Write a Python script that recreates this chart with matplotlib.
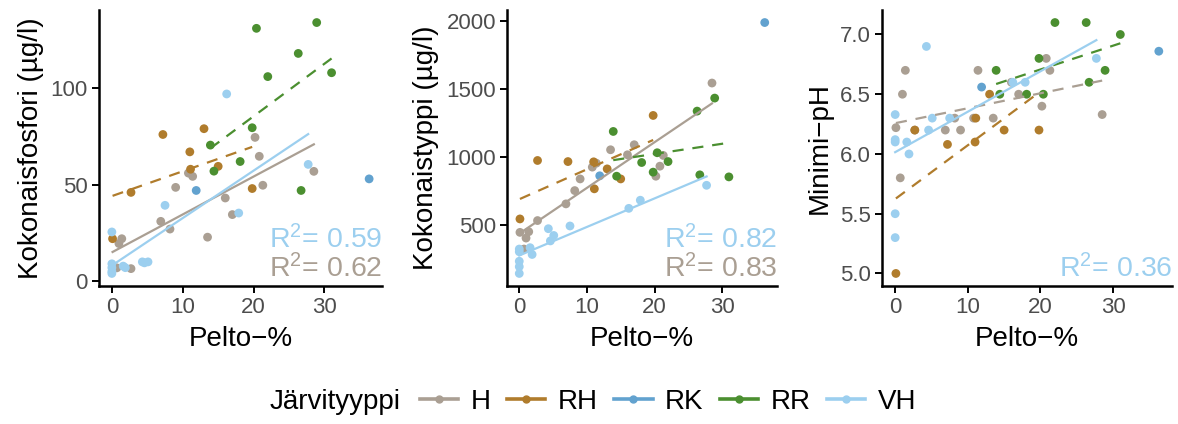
import numpy as np
import matplotlib
matplotlib.use("Agg")
import matplotlib.pyplot as plt
from matplotlib.lines import Line2D

plt.rcParams['font.family'] = ['Liberation Sans', 'DejaVu Sans']
plt.rcParams['mathtext.fontset'] = 'custom'
plt.rcParams['mathtext.rm'] = 'Liberation Sans'
plt.rcParams['mathtext.default'] = 'regular'

# Järvityypit ja värit
tyypit = ["H", "RH", "RK", "RR", "VH"]
varit = {"H": "#aa9f93", "RH": "#b07c2c", "RK": "#62a2cf", "RR": "#4b8f30", "VH": "#9ccfef"}

# Pelto-% ja mittaukset tyypeittäin (luettu kuvasta)
h_pelto = [0.1, 0.7, 1.0, 1.4, 2.7, 6.9, 8.2, 9.0, 10.8, 11.4, 13.5, 16.0, 17.0, 20.2, 20.8, 21.3, 28.5]
h_tp = [8, 6.9, 19.5, 22, 6.5, 31, 27, 48.6, 56, 54.3, 22.8, 43.1, 34.5, 74.5, 64.7, 49.7, 56.9]
h_tn = [443, 320, 401, 448, 530, 653, 751, 837, 924, 953, 1052, 1015, 1089, 857, 931, 1010, 1544]
h_ph = [6.22, 5.8, 6.5, 6.7, 6.2, 6.2, 6.3, 6.2, 6.3, 6.7, 6.3, 6.6, 6.5, 6.4, 6.8, 6.7, 6.33]

rh_pelto = [0.1, 2.7, 7.2, 11.0, 11.1, 13.0, 15.0, 19.8]
rh_tp = [22, 46, 76, 67, 58, 79, 59.5, 48]
rh_tn = [542, 973, 965, 963, 764, 911, 837, 1305]
rh_ph = [5.0, 6.2, 6.08, 6.1, 6.3, 6.5, 6.2, 6.2]

rk_pelto = [11.9, 36.3]
rk_tp = [47, 53]
rk_tn = [860, 1990]
rk_ph = [6.56, 6.86]

rr_pelto = [13.9, 14.4, 18.1, 19.8, 20.4, 22.0, 26.3, 26.7, 28.9, 31.0]
rr_tp = [70.5, 57, 62, 79.5, 131, 106, 118, 47, 134, 108]
rr_tn = [1187, 857, 958, 887, 1030, 965, 1337, 867, 1433, 852]
rr_ph = [6.7, 6.5, 6.5, 6.8, 6.5, 7.1, 7.1, 6.6, 6.7, 7.0]

vh_pelto = [0, 0, 0, 0, 0, 1.6, 1.9, 4.3, 4.6, 5.1, 7.5, 16.2, 17.9, 27.7]
vh_tp = [25.5, 9, 7, 5, 4, 7.8, 7, 10, 9.5, 10, 39.3, 97, 35.3, 60.5]
vh_tn = [320, 300, 230, 190, 140, 330, 280, 470, 380, 420, 490, 620, 680, 790]
vh_ph = [6.33, 6.12, 6.1, 5.5, 5.3, 6.1, 6.0, 6.9, 6.2, 6.3, 6.3, 6.6, 6.6, 6.8]

pelto = {"H": h_pelto, "RH": rh_pelto, "RK": rk_pelto, "RR": rr_pelto, "VH": vh_pelto}
muuttujat = [
    {"H": h_tp, "RH": rh_tp, "RK": rk_tp, "RR": rr_tp, "VH": vh_tp},
    {"H": h_tn, "RH": rh_tn, "RK": rk_tn, "RR": rr_tn, "VH": vh_tn},
    {"H": h_ph, "RH": rh_ph, "RK": rk_ph, "RR": rr_ph, "VH": vh_ph},
]
y_otsikot = ["Kokonaisfosfori (µg/l)", "Kokonaistyppi (µg/l)", "Minimi\u2212pH"]
y_tikit = [[0, 50, 100], [500, 1000, 1500, 2000], [5.0, 5.5, 6.0, 6.5, 7.0]]

# regressiosuorat: tyyppi -> viivatyyppi (solid = merkitsevä)
suorat = [
    {"H": "solid", "RH": "dashed", "RR": "dashed", "VH": "solid"},
    {"H": "solid", "RH": "dashed", "RR": "dashed", "VH": "solid"},
    {"H": "dashed", "RH": "dashed", "RR": "dashed", "VH": "solid"},
]
r2_tekstit = [
    [("VH", "0.59"), ("H", "0.62")],
    [("VH", "0.82"), ("H", "0.83")],
    [("VH", "0.36")],
]

fig = plt.figure(figsize=(11.78, 4.24), dpi=100)
paikat = [(99, 382), (507, 777), (882, 1172)]
harmaa = "#4d4d4d"

for i, (vasen, oikea) in enumerate(paikat):
    ax = fig.add_axes([vasen / 1178, (424 - 286) / 424, (oikea - vasen) / 1178, 276 / 424])
    data = muuttujat[i]
    for t in tyypit:
        ax.scatter(pelto[t], data[t], s=40, color=varit[t], edgecolors="none", zorder=2)
    for t, tyyli in suorat[i].items():
        x = np.array(pelto[t], dtype=float)
        y = np.array(data[t], dtype=float)
        k, b = np.polyfit(x, y, 1)
        xx = np.array([x.min(), x.max()])
        ls = (0, (5, 4)) if tyyli == "dashed" else "-"
        ax.plot(xx, k * xx + b, color=varit[t], lw=1.6, linestyle=ls, zorder=3)

    kaikki_x = np.concatenate([pelto[t] for t in tyypit])
    kaikki_y = np.concatenate([data[t] for t in tyypit])
    dx = (kaikki_x.max() - kaikki_x.min()) * 0.05
    dy = (kaikki_y.max() - kaikki_y.min()) * 0.05
    ax.set_xlim(kaikki_x.min() - dx, kaikki_x.max() + dx)
    ax.set_ylim(kaikki_y.min() - dy, kaikki_y.max() + dy)
    ax.set_xticks([0, 10, 20, 30])
    ax.set_yticks(y_tikit[i])
    if i == 2:
        ax.set_yticklabels([f"{v:.1f}" for v in y_tikit[i]])

    for s in ["top", "right"]:
        ax.spines[s].set_visible(False)
    for s in ["left", "bottom"]:
        ax.spines[s].set_linewidth(1.8)
    ax.tick_params(length=5, width=1.4, pad=3, labelsize=16, labelcolor=harmaa)
    ax.set_xlabel("Pelto\u2212%", fontsize=20, labelpad=6)
    ax.set_ylabel(y_otsikot[i], fontsize=20, labelpad=5)

    for j, (t, arvo) in enumerate(r2_tekstit[i]):
        yy = 0.03 + 0.108 * (len(r2_tekstit[i]) - 1 - j)
        ax.text(1.0, yy, r"R$^2$= " + arvo, transform=ax.transAxes, ha="right",
                va="baseline", fontsize=20.5, color=varit[t])

# selite alareunaan
selite_y = 1 - 402 / 424
fig.text(270 / 1178, selite_y, "Järvityyppi", fontsize=20, va="center", ha="left")
kahvat = [Line2D([], [], color=varit[t], lw=2.6, marker="o", markersize=5) for t in tyypit]
fig.legend(kahvat, tyypit, loc="center left", bbox_to_anchor=(420 / 1178, selite_y),
           ncol=5, frameon=False, fontsize=20, handlelength=1.37, handletextpad=0.45,
           columnspacing=0.6, borderaxespad=0, borderpad=0)

fig.savefig("out.png", dpi=100)
